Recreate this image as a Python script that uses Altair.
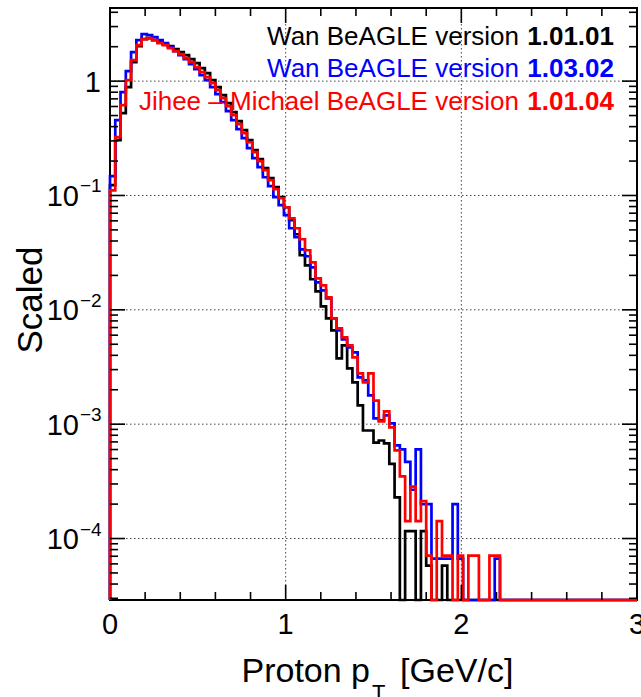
import altair as alt
import pandas as pd

# Histogram binning: 100 bins of 0.03 GeV/c from 0 to 3 GeV/c
N_BINS = 100
BIN_WIDTH = 0.03
X_MIN, X_MAX = 0.0, 3.0
Y_MIN, Y_MAX = 2.9e-5, 4.36

# Bin contents (scaled), starting at bin 0; bins after the list are empty
wan_10101 = [
    0.123, 0.3045, 0.525, 0.886, 1.467, 2.024, 2.331, 2.379, 2.285, 2.194,
    2.108, 2.024, 1.906, 1.794, 1.689, 1.558, 1.437, 1.299, 1.175, 1.020,
    0.886, 0.754, 0.642, 0.535, 0.447, 0.3725, 0.3045, 0.249, 0.2077, 0.1732,
    0.1416, 0.1181, 0.0966, 0.0789, 0.0607, 0.0458, 0.0300, 0.0245, 0.0185, 0.01452,
    0.01073, 0.00843, 0.00662, 0.00376, 0.00489, 0.00308, 0.00232, 0.00146, 0.00088, 0.00088,
    0.00069, 0.00072, 0.00068, 0.00045, 0.000229, 0.0, 0.000116, 0.000116, 0.0, 0.000116,
    0.000058, 0.0, 0.0, 0.000058,
]
wan_10302 = [
    0.1474, 0.4557, 0.8013, 1.223, 1.794, 2.285, 2.578, 2.527, 2.427, 2.285,
    2.151, 1.984, 1.830, 1.689, 1.558, 1.409, 1.274, 1.129, 1.020, 0.886,
    0.770, 0.655, 0.546, 0.456, 0.380, 0.317, 0.259, 0.2119, 0.1768, 0.1444,
    0.1205, 0.0966, 0.0822, 0.0672, 0.0517, 0.0431, 0.0338, 0.0294, 0.02355, 0.0174,
    0.01482, 0.01261, 0.00843, 0.00662, 0.00552, 0.00470, 0.00425, 0.002566, 0.002415, 0.001785,
    0.001123, 0.001078, 0.001193, 0.001015, 0.000652, 0.000601, 0.000468, 0.000267, 0.000601, 0.0002,
    0.0002, 0.0000668, 0.0000668, 0.0000668, 0.0000668, 0.0002, 0.0000668, 0.0, 0.0, 0.0,
    0.0, 0.0, 0.0, 0.0000668,
]
jihee_michael_10104 = [
    0.111, 0.3236, 0.6166, 1.020, 1.527, 2.066, 2.331, 2.379, 2.285, 2.151,
    2.066, 1.945, 1.830, 1.723, 1.589, 1.467, 1.326, 1.199, 1.084, 0.960,
    0.834, 0.710, 0.604, 0.504, 0.420, 0.351, 0.292, 0.239, 0.1994, 0.1663,
    0.136, 0.1134, 0.0946, 0.0789, 0.0632, 0.0517, 0.0414, 0.0332, 0.0260, 0.01887,
    0.01639, 0.01287, 0.00843, 0.00689, 0.00574, 0.00489, 0.00384, 0.00278, 0.00232, 0.00278,
    0.00161, 0.001057, 0.001293, 0.000937, 0.000589, 0.000349, 0.000142, 0.000284, 0.000142, 0.000213,
    0.000071, 0.0, 0.000142, 0.000071, 0.000071, 0.0, 0.000071, 0.0, 0.000071, 0.000071,
    0.0, 0.0, 0.000071, 0.000071,
]

legend_names = ["Wan BeAGLE version", "Wan BeAGLE version", "Jihee \u2013 Michael BeAGLE version"]
legend_versions = ["1.01.01", "1.03.02", "1.01.04"]
series_colors = ["#000000", "#0000ff", "#ff0000"]

x_major = [1.0, 2.0]
x_labels = [0, 1, 2, 3]
y_decades = [1e-1, 1e-2, 1e-3, 1e-4]
y_exponents = ["\u22121", "\u22122", "\u22123", "\u22124"]

W, H = 527, 592
FONT = "Liberation Sans"

x_scale = alt.Scale(domain=[X_MIN, X_MAX], nice=False, zero=False)
y_scale = alt.Scale(type="log", domain=[Y_MIN, Y_MAX], nice=False)


def X(field):
    return alt.X(field, type="quantitative", scale=x_scale, axis=None)


def Y(field):
    return alt.Y(field, type="quantitative", scale=y_scale, axis=None)


def step_frame(contents):
    """Outline of a histogram: left edges plus closing edge; empty bins sit on the floor."""
    vals = list(contents) + [0.0] * (N_BINS - len(contents))
    vals = [v if v > 0 else Y_MIN for v in vals]
    xs = [X_MIN] + [round(i * BIN_WIDTH, 4) for i in range(N_BINS)] + [X_MAX]
    ys = [Y_MIN] + vals + [Y_MIN]
    return pd.DataFrame({"x": xs, "v": ys, "i": list(range(len(xs)))})


layers = []

# dotted grid at major ticks
layers.append(
    alt.Chart(pd.DataFrame({"x": x_major})).mark_rule(
        color="#444444", strokeWidth=1, strokeDash=[1.5, 2.5]
    ).encode(x=X("x"), y=alt.value(0), y2=alt.value(H))
)
layers.append(
    alt.Chart(pd.DataFrame({"v": [1.0] + y_decades})).mark_rule(
        color="#444444", strokeWidth=1, strokeDash=[1.5, 2.5]
    ).encode(y=Y("v"), x=alt.value(0), x2=alt.value(W))
)

# the three histograms, red drawn last
for contents, color in zip([wan_10101, wan_10302, jihee_michael_10104], series_colors):
    layers.append(
        alt.Chart(step_frame(contents)).mark_line(
            interpolate="step-after", color=color, strokeWidth=2.7
        ).encode(x=X("x"), y=Y("v"), order=alt.Order("i:Q"))
    )

# inward ticks on all four sides
x_minor = [round(0.2 * k, 2) for k in range(1, 15) if k % 5 != 0]
y_minor = [m * 10.0 ** e for e in range(-5, 1) for m in range(2, 10)
           if Y_MIN <= m * 10.0 ** e <= Y_MAX]
y_major = [1.0] + y_decades
MAJ, MIN_T = 15, 8
tick_style = dict(color="black", strokeWidth=1.6)
for vals, ln in [(x_major, MAJ), (x_minor, MIN_T)]:
    d = pd.DataFrame({"x": vals})
    layers.append(alt.Chart(d).mark_rule(**tick_style).encode(
        x=X("x"), y=alt.value(H), y2=alt.value(H - ln)))
    layers.append(alt.Chart(d).mark_rule(**tick_style).encode(
        x=X("x"), y=alt.value(0), y2=alt.value(ln)))
for vals, ln in [(y_major, MAJ), (y_minor, MIN_T)]:
    d = pd.DataFrame({"v": vals})
    layers.append(alt.Chart(d).mark_rule(**tick_style).encode(
        y=Y("v"), x=alt.value(0), x2=alt.value(ln)))
    layers.append(alt.Chart(d).mark_rule(**tick_style).encode(
        y=Y("v"), x=alt.value(W), x2=alt.value(W - ln)))

# y tick labels: "1" and powers of ten with raised exponents
layers.append(
    alt.Chart(pd.DataFrame({"v": [1.0]})).mark_text(
        text="1", font=FONT, fontSize=29, align="right", baseline="alphabetic", dy=10.5
    ).encode(y=Y("v"), x=alt.value(-9))
)
dec = pd.DataFrame({"v": y_decades, "e": y_exponents})
layers.append(
    alt.Chart(dec).mark_text(
        text="10", font=FONT, fontSize=29, align="right", baseline="alphabetic", dy=10.5
    ).encode(y=Y("v"), x=alt.value(-31))
)
layers.append(
    alt.Chart(dec).mark_text(
        font=FONT, fontSize=19, align="left", baseline="alphabetic", dy=-3
    ).encode(y=Y("v"), x=alt.value(-30), text="e:N")
)

# x tick labels
layers.append(
    alt.Chart(pd.DataFrame({"x": x_labels})).mark_text(
        font=FONT, fontSize=29, align="center", baseline="alphabetic"
    ).encode(x=X("x"), y=alt.value(626), text="x:N")
)

one = pd.DataFrame({"a": [0]})


def label(text, x, y, size, align="left", color="black", weight="normal", angle=None):
    kw = dict(text=text, font=FONT, fontSize=size, align=align, baseline="alphabetic",
              color=color, fontWeight=weight)
    if angle is not None:
        kw["angle"] = angle
    return alt.Chart(one).mark_text(**kw).encode(x=alt.value(x), y=alt.value(y))


# axis titles
layers.append(label("Scaled", -68, 292, 35, align="center", angle=270))
layers.append(label("Proton p", 260, 674, 34, align="right"))
layers.append(label("T", 262, 692, 22))
layers.append(label("[GeV/c]", 290, 674, 34))

# legend text, version numbers in bold
for k, (name, ver, col) in enumerate(zip(legend_names, legend_versions, series_colors)):
    yb = [37, 69, 102][k]
    layers.append(label(name, 409, yb, 26, align="right", color=col))
    layers.append(label(ver, 504, yb, 26, align="right", color=col, weight="bold"))

chart = alt.layer(*layers).properties(
    width=W,
    height=H,
    padding={"left": 110, "top": 8, "right": 4, "bottom": 97},
    autosize=alt.AutoSizeParams(type="none"),
    background="white",
).configure_view(stroke="black", strokeWidth=2)

chart.save("out.html", embed_options={"renderer": "svg", "actions": False})
